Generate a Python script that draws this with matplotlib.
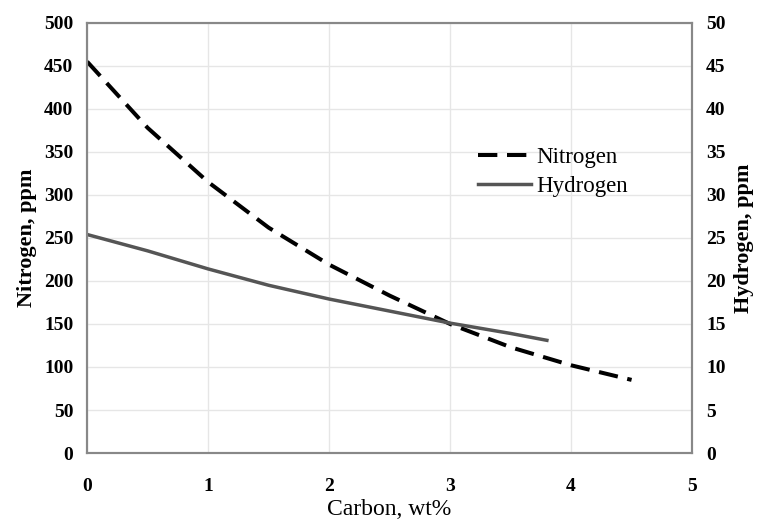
import matplotlib
matplotlib.use("Agg")
import matplotlib.pyplot as plt

# data
carbon_n = [0, 0.5, 1, 1.5, 2, 2.5, 3, 3.5, 4, 4.5]
nitrogen = [455, 378, 315, 262, 219, 183, 150, 123, 102, 85]
carbon_h = [0, 0.5, 1, 1.5, 2, 2.5, 3, 3.5, 3.8]
hydrogen = [25.4, 23.5, 21.4, 19.5, 17.9, 16.5, 15.1, 13.9, 13.1]

plt.rcParams['font.family'] = ['Liberation Serif', 'DejaVu Serif']

fig = plt.figure(figsize=(7.58, 5.21), dpi=100)
ax = fig.add_axes([0.115, 0.1305, 0.798, 0.8255])
ax2 = ax.twinx()

ln1, = ax.plot(carbon_n, nitrogen, color='black', lw=2.9, ls=(0, (4.8, 2.4)),
               label='Nitrogen')
ln2, = ax2.plot(carbon_h, hydrogen, color='#555555', lw=2.5, label='Hydrogen')

ax.set_xlim(0, 5)
ax.set_ylim(0, 500)
ax2.set_ylim(0, 50)
ax.set_xticks(range(0, 6))
ax.set_yticks(range(0, 501, 50))
ax2.set_yticks(range(0, 51, 5))

ax.grid(True, color='#e6e6e6', lw=1)
ax.set_axisbelow(True)
for a in (ax, ax2):
    a.tick_params(length=0, labelsize=14)
    for lab in a.get_yticklabels() + a.get_xticklabels():
        lab.set_fontweight('bold')
    for s in a.spines.values():
        s.set_color('#888888')
        s.set_linewidth(1.5)
ax.tick_params(axis='x', pad=18)
ax.tick_params(axis='y', pad=10)
ax2.tick_params(axis='y', pad=10)

ax.set_xlabel('Carbon, wt%', fontsize=17, labelpad=3)
ax.set_ylabel('Nitrogen, ppm', fontsize=16, fontweight='bold', labelpad=5)
ax2.set_ylabel('Hydrogen, ppm', fontsize=16, fontweight='bold', labelpad=6)

ax.legend([ln1, ln2], ['Nitrogen', 'Hydrogen'], loc='upper left',
          bbox_to_anchor=(0.612, 0.76), frameon=False, fontsize=16.5,
          handlelength=2.3, handletextpad=0.25, labelspacing=0.35)

fig.savefig('out.png', dpi=100)
